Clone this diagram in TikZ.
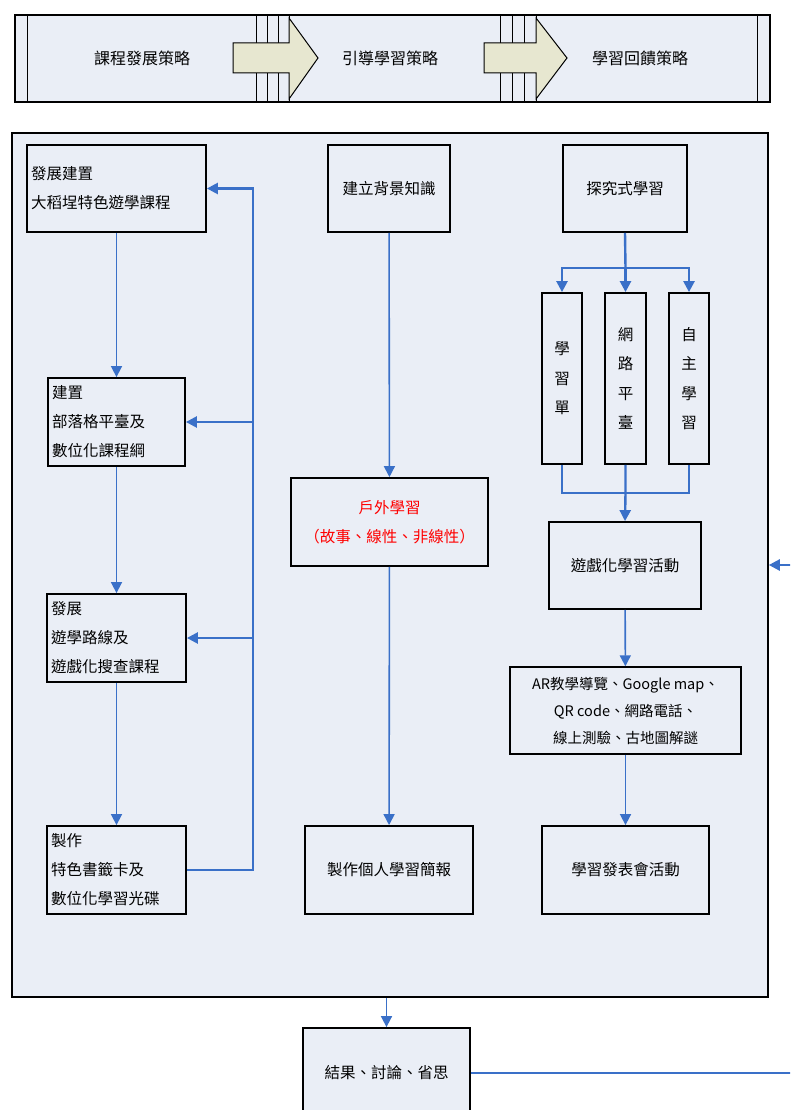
\documentclass[tikz,border=0pt]{standalone}
\usepackage{fontspec}
\newfontfamily\cjk{Noto Sans CJK TC}
\usetikzlibrary{arrows.meta,positioning,calc}
\definecolor{panelbg}{RGB}{234,238,246}
\definecolor{flowblue}{RGB}{58,112,200}
\definecolor{arrowbeige}{RGB}{231,231,208}

\begin{document}
\begin{tikzpicture}[x=1pt,y=-1pt,
  box/.style={draw, line width=1.8pt, fill=panelbg, inner sep=3pt, font=\cjk\fontsize{15.5}{29}\selectfont},
  lbox/.style={box, align=left, anchor=center},
  cbox/.style={box, align=center},
  vbox/.style={box, align=center, font=\cjk\fontsize{15.5}{29.5}\selectfont},
  arr/.style={-{Triangle[width=11pt,length=11pt]}, flowblue, line width=1.6pt},
  thickarr/.style={arr, line width=2.4pt},
  line/.style={flowblue, line width=2.4pt}
]
\clip (0,0) rectangle (790,1110);
\fill[white] (0,0) rectangle (790,1110);

% banner
\node[draw, line width=1.6pt, fill=panelbg, minimum width=755pt, minimum height=87pt, inner sep=0pt] (banner) at (392.5,58.5) {};
\foreach \x in {27,256,267,278,289,500,512,524,536,757}
  \draw[line width=1pt] (\x,15) -- (\x,102);
\draw[line width=1pt, fill=arrowbeige] (233,43) -- (289,43) -- (289,18) -- (318,58) -- (289,99) -- (289,73) -- (233,73) -- cycle;
\draw[line width=1pt, fill=arrowbeige] (484,43) -- (536,43) -- (536,18) -- (567,58) -- (536,99) -- (536,73) -- (484,73) -- cycle;
\node[font=\cjk\fontsize{16}{16}\selectfont] (s1) at (142,58) {課程發展策略};
\node[font=\cjk\fontsize{16}{16}\selectfont] (s2) at (390,58) {引導學習策略};
\node[font=\cjk\fontsize{16}{16}\selectfont] (s3) at (640,58) {學習回饋策略};

% panel
\node[draw, line width=1.6pt, fill=panelbg, minimum width=756pt, minimum height=864pt, inner sep=0pt] (panel) at (390,565) {};

% left column
\node[lbox, minimum width=179pt, minimum height=87pt, text width=171pt] (dev) at (116.5,188.5) {發展建置\\大稻埕特色遊學課程};
\node[lbox, minimum width=137pt, minimum height=88pt, text width=129pt] (blog) at (116.5,422) {建置\\部落格平臺及\\數位化課程綱};
\node[lbox, minimum width=139pt, minimum height=88pt, text width=131pt] (route) at (116.5,638) {發展\\遊學路線及\\遊戲化搜查課程};
\node[lbox, minimum width=139pt, minimum height=88pt, text width=131pt] (card) at (116.5,870) {製作\\特色書籤卡及\\數位化學習光碟};
\coordinate (fb) at (253,188.5);

% middle column
\node[cbox, minimum width=122pt, minimum height=87pt] (know) at (389,188.5) {建立背景知識};
\node[cbox, minimum width=197pt, minimum height=88pt, text=red] (out) at (389.5,522) {戶外學習\\（故事、線性、非線性）};
\node[cbox, minimum width=168pt, minimum height=88pt] (report) at (389,870) {製作個人學習簡報};

% right column
\node[cbox, minimum width=124pt, minimum height=87pt] (inq) at (625,188.5) {探究式學習};
\node[vbox, minimum width=40pt, minimum height=171pt, text width=20pt] (sheet) at (562,378.5) {學\\習\\單};
\node[vbox, minimum width=41pt, minimum height=171pt, text width=20pt] (web) at (625.5,378.5) {網\\路\\平\\臺};
\node[vbox, minimum width=40pt, minimum height=171pt, text width=20pt] (self) at (689,378.5) {自\\主\\學\\習};
\coordinate (split) at (625.5,268);
\coordinate (merge) at (625.5,493);
\node[cbox, minimum width=152pt, minimum height=87pt] (game) at (625,565.5) {遊戲化學習活動};
\node[cbox, line width=1.4pt, minimum width=231pt, minimum height=87pt, font=\cjk\fontsize{14.5}{27}\selectfont] (tools) at (625.5,710.5) {AR教學導覽、Google map、\\QR code、網路電話、\\線上測驗、古地圖解謎};
\node[cbox, minimum width=167pt, minimum height=88pt] (show) at (625.5,870) {學習發表會活動};

% result
\node[cbox, minimum width=167pt, minimum height=90pt] (result) at (386.5,1073) {結果、討論、省思};
\coordinate (loop) at (805,1073);

\draw[arr] (dev) -- (blog);
\draw[arr] (blog) -- (route);
\draw[arr] (route) -- (card);
\draw[thickarr] (card.east) -| (fb) -- (dev.east);
\draw[thickarr] (blog.east -| fb) -- (blog.east);
\draw[thickarr] (route.east -| fb) -- (route.east);

\draw[arr] (know) -- (out);
\draw[arr] (out) -- (report);

\draw[line] (inq.south) -- (split);
\draw[thickarr] (split) -| (sheet.north);
\draw[thickarr] (split) -- (web.north);
\draw[thickarr] (split) -| (self.north);
\draw[line] (sheet.south) |- (merge);
\draw[line] (self.south) |- (merge);
\draw[thickarr] (web.south) -- (merge) -- (game.north);
\draw[arr] (game) -- (tools);
\draw[arr] (tools) -- (show);

\draw[arr] (panel.south -| result.north) -- (result.north);
\draw[thickarr] (result.east) -- (loop) |- (panel.east);
\end{tikzpicture}
\end{document}
